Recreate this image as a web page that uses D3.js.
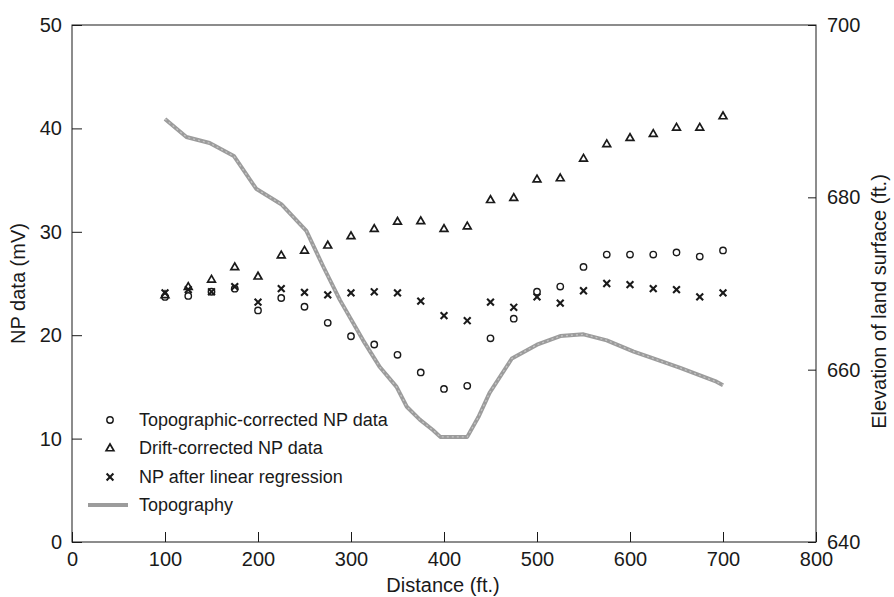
<!DOCTYPE html>
<head>
<style>
body { margin: 0; background: #fff; }
svg { font-family: "Liberation Sans", Arial, Helvetica, sans-serif; }
</style>
<script src="https://d3js.org/d3.v7.min.js"></script>
</head>
<body>
<svg id="npSvg" width="894" height="597"></svg>
<script>

var width = 894;
var height = 597;

// station distances (ft.) for the three NP series
var distances = [100, 125, 150, 175, 200, 225, 250, 275, 300, 325, 350, 375, 400, 425, 450, 475, 500, 525, 550, 575, 600, 625, 650, 675, 700];

// (mV)
var topoCorrected = [23.7, 23.8, 24.2, 24.5, 22.4, 23.6, 22.75, 21.2, 19.9, 19.1, 18.1, 16.4, 14.8, 15.1, 19.7, 21.6, 24.2, 24.7, 26.6, 27.8, 27.8, 27.8, 28.0, 27.6, 28.2];
var driftCorrected = [23.9, 24.7, 25.4, 26.6, 25.7, 27.75, 28.2, 28.7, 29.6, 30.3, 31.0, 31.05, 30.3, 30.55, 33.1, 33.3, 35.1, 35.2, 37.1, 38.5, 39.1, 39.5, 40.1, 40.1, 41.2];
var afterRegression = [24.1, 24.4, 24.2, 24.7, 23.2, 24.5, 24.15, 23.9, 24.1, 24.2, 24.1, 23.3, 21.9, 21.4, 23.2, 22.7, 23.7, 23.1, 24.3, 25.0, 24.9, 24.5, 24.4, 23.7, 24.1];

// topography profile (ft. along line, ft. elevation)
var topoDist = [100, 123, 148, 174, 198, 225, 252, 270, 288, 313, 331, 349, 360, 374, 388, 396, 425, 437, 449, 473, 500, 525, 550, 575, 604, 625, 654, 693, 700];
var topoElev = [689.1, 687.0, 686.3, 684.8, 681.0, 679.2, 676.1, 672.0, 668.1, 663.4, 660.3, 658.0, 655.7, 654.2, 653.0, 652.2, 652.2, 654.5, 657.3, 661.3, 662.9, 663.9, 664.1, 663.4, 662.1, 661.3, 660.2, 658.6, 658.2];

var xTicks = [0, 100, 200, 300, 400, 500, 600, 700, 800];
var yLeftTicks = [0, 10, 20, 30, 40, 50];
var yRightTicks = [640, 660, 680, 700];

var legendLabels = ["Topographic-corrected NP data", "Drift-corrected NP data", "NP after linear regression", "Topography"];

var plotLeft = 72, plotRight = 816, plotTop = 25, plotBottom = 542;

var x = d3.scaleLinear().domain([0, 800]).range([plotLeft, plotRight]);
var yL = d3.scaleLinear().domain([0, 50]).range([plotBottom, plotTop]);
var yR = d3.scaleLinear().domain([640, 700]).range([plotBottom, plotTop]);

var svg = d3.select("#npSvg");
var ink = "#1a1a1a";
var topoColor = "#9c9c9c";

// frame
svg.append("rect")
    .attr("x", plotLeft).attr("y", plotTop)
    .attr("width", plotRight - plotLeft).attr("height", plotBottom - plotTop)
    .attr("fill", "none").attr("stroke", ink).attr("stroke-width", 1);

// axes, ticks point inward
var xAxis = svg.append("g")
    .attr("transform", "translate(0," + plotBottom + ")")
    .call(d3.axisBottom(x).tickValues(xTicks).tickFormat(d3.format("d"))
        .tickSize(-10).tickSizeOuter(0).tickPadding(10));

var leftAxis = svg.append("g")
    .attr("transform", "translate(" + plotLeft + ",0)")
    .call(d3.axisLeft(yL).tickValues(yLeftTicks).tickFormat(d3.format("d"))
        .tickSize(-10).tickSizeOuter(0).tickPadding(10));

var rightAxis = svg.append("g")
    .attr("transform", "translate(" + plotRight + ",0)")
    .call(d3.axisRight(yR).tickValues(yRightTicks).tickFormat(d3.format("d"))
        .tickSize(-8).tickSizeOuter(0).tickPadding(11));

[xAxis, leftAxis, rightAxis].forEach(function(g) {
    g.select(".domain").remove();
    g.selectAll("line").attr("stroke", ink);
    g.selectAll("text").attr("fill", ink).style("font-size", "20px");
});

// axis titles
svg.append("text")
    .attr("x", (plotLeft + plotRight) / 2 - 1).attr("y", 592)
    .attr("text-anchor", "middle").attr("fill", ink)
    .style("font-size", "20px")
    .text("Distance (ft.)");

svg.append("text")
    .attr("transform", "translate(25," + (plotTop + plotBottom) / 2 + ") rotate(-90)")
    .attr("text-anchor", "middle").attr("fill", ink)
    .style("font-size", "20px")
    .text("NP data (mV)");

svg.append("text")
    .attr("transform", "translate(886," + ((plotTop + plotBottom) / 2 + 18) + ") rotate(-90)")
    .attr("text-anchor", "middle").attr("fill", ink)
    .style("font-size", "20px")
    .text("Elevation of land surface (ft.)");

// topography line
var topoLine = d3.line()
    .x(function(d) { return x(d[0]); })
    .y(function(d) { return yR(d[1]); });

var topoData = topoDist.map(function(d, i) { return [d, topoElev[i]]; });

svg.append("path")
    .datum(topoData)
    .attr("d", topoLine)
    .attr("fill", "none")
    .attr("stroke", topoColor)
    .attr("stroke-width", 4)
    .attr("stroke-linejoin", "round");

svg.append("path")
    .datum(topoData)
    .attr("d", topoLine)
    .attr("fill", "none")
    .attr("stroke", "#c4c4c4")
    .attr("stroke-width", 1.3)
    .attr("stroke-dasharray", "2,3");

// marker helpers
var triangle = d3.symbol().type(d3.symbolTriangle).size(26);

function drawCircle(g, cx, cy) {
    g.append("circle")
        .attr("cx", cx).attr("cy", cy).attr("r", 3.2)
        .attr("fill", "none").attr("stroke", ink).attr("stroke-width", 1.4);
}

function drawTriangle(g, cx, cy) {
    g.append("path")
        .attr("d", triangle)
        .attr("transform", "translate(" + cx + "," + (cy + 0.5) + ")")
        .attr("fill", "none").attr("stroke", ink).attr("stroke-width", 1.7);
}

function drawCross(g, cx, cy) {
    var s = 3.4;
    g.append("path")
        .attr("d", "M" + (cx - s) + "," + (cy - s) + "L" + (cx + s) + "," + (cy + s) +
                   "M" + (cx - s) + "," + (cy + s) + "L" + (cx + s) + "," + (cy - s))
        .attr("stroke", ink).attr("stroke-width", 2.1).attr("fill", "none");
}

var marks = svg.append("g");

distances.forEach(function(d, i) {
    drawCircle(marks, x(d), yL(topoCorrected[i]));
    drawTriangle(marks, x(d), yL(driftCorrected[i]));
    drawCross(marks, x(d), yL(afterRegression[i]));
});

// legend
var legend = svg.append("g");
var legendX = 110, legendTextX = 139;
var legendY = [420, 448, 477, 505];

drawCircle(legend, legendX, legendY[0]);
drawTriangle(legend, legendX, legendY[1]);
drawCross(legend, legendX, legendY[2]);

legend.append("line")
    .attr("x1", 88).attr("x2", 128)
    .attr("y1", legendY[3]).attr("y2", legendY[3])
    .attr("stroke", topoColor).attr("stroke-width", 4);

legendLabels.forEach(function(t, i) {
    legend.append("text")
        .attr("x", legendTextX).attr("y", legendY[i])
        .attr("dy", "0.35em")
        .attr("fill", ink)
        .style("font-size", "18px")
        .text(t);
});

</script>
</body>
</html>
